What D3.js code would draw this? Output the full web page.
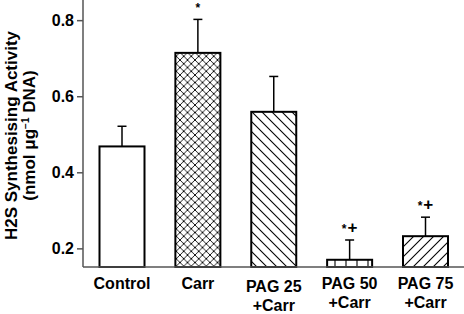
<!DOCTYPE html>
<html>
<head>
<meta charset="utf-8">
<script src="https://cdn.jsdelivr.net/npm/d3@7"></script>
<style>
  body { margin: 0; background: #fff; }
  text { font-family: "Liberation Sans", Arial, sans-serif; font-weight: bold; }
</style>
</head>
<body>
<div id="chart"></div>
<script>
// data
var groups = ["Control", "Carr", "PAG 25\n+Carr", "PAG 50\n+Carr", "PAG 75\n+Carr"];
var means = [0.468, 0.714, 0.559, 0.170, 0.232];
var errors = [0.053, 0.088, 0.093, 0.052, 0.050];
var marks = ["", "*", "", "*+", "*+"];
var fills = ["none", "cross", "back", "vert", "slash"];
var yTicks = [0.2, 0.4, 0.6, 0.8];

var W = 464, H = 314;
var svg = d3.select("#chart").append("svg")
  .attr("width", W)
  .attr("height", H);

// hatch patterns
var defs = svg.append("defs");
function hatch(id, size, lines, sw) {
  var p = defs.append("pattern")
    .attr("id", id)
    .attr("patternUnits", "userSpaceOnUse")
    .attr("width", size)
    .attr("height", size);
  p.append("rect").attr("width", size).attr("height", size).attr("fill", "#fff");
  lines.forEach(function (l) {
    p.append("line")
      .attr("x1", l[0]).attr("y1", l[1]).attr("x2", l[2]).attr("y2", l[3])
      .attr("stroke", "#000").attr("stroke-width", sw);
  });
}
hatch("cross", 7.5, [[0, 0, 7.5, 7.5], [0, 7.5, 7.5, 0]], 0.9);
hatch("back", 10, [[0, 0, 10, 10], [-1, 9, 1, 11], [9, -1, 11, 1]], 1.1);
hatch("slash", 10, [[0, 10, 10, 0], [-1, 1, 1, -1], [9, 11, 11, 9]], 1.1);
hatch("vert", 11, [[5, 0, 5, 11]], 1.1);

var x = d3.scalePoint()
  .domain(groups)
  .range([122, 425.5]);
var barW = 45;

var y = d3.scaleLinear()
  .domain([0.151, 0.853])
  .range([267, 0]);

// y axis
var yAxis = svg.append("g")
  .attr("transform", "translate(83,0)")
  .call(d3.axisLeft(y).tickValues(yTicks).tickSize(6).tickPadding(3).tickFormat(d3.format(".1f")));
yAxis.select(".domain").attr("stroke", "#555").attr("stroke-width", 1.5).attr("d", "M0,0V267");
yAxis.selectAll(".tick line").attr("stroke", "#555").attr("stroke-width", 1.5);
yAxis.selectAll(".tick text")
  .attr("fill", "#000")
  .style("font-size", "16px")
  .style("font-family", "'Liberation Sans', Arial, sans-serif")
  .style("font-weight", "bold");

// error bars (drawn behind bars)
groups.forEach(function (g, i) {
  var cx = x(g);
  svg.append("line")
    .attr("x1", cx).attr("x2", cx)
    .attr("y1", y(means[i])).attr("y2", y(means[i] + errors[i]))
    .attr("stroke", "#000").attr("stroke-width", 1.5);
  svg.append("line")
    .attr("x1", cx - 4.5).attr("x2", cx + 4.5)
    .attr("y1", y(means[i] + errors[i])).attr("y2", y(means[i] + errors[i]))
    .attr("stroke", "#000").attr("stroke-width", 1.5);
});

// bars
svg.selectAll(".bar")
  .data(groups)
  .enter().append("rect")
  .attr("class", "bar")
  .attr("x", function (d) { return x(d) - barW / 2; })
  .attr("y", function (d, i) { return y(means[i]); })
  .attr("width", barW)
  .attr("height", function (d, i) { return y(y.domain()[0]) - y(means[i]); })
  .attr("fill", function (d, i) { return fills[i] == "none" ? "#fff" : "url(#" + fills[i] + ")"; })
  .attr("stroke", "#000")
  .attr("stroke-width", 2);

// x axis line across the full width
svg.append("line")
  .attr("x1", 83).attr("x2", W)
  .attr("y1", 267).attr("y2", 267)
  .attr("stroke", "#555").attr("stroke-width", 1.5);

// significance marks
groups.forEach(function (g, i) {
  if (!marks[i]) return;
  var t = svg.append("text")
    .attr("x", x(g))
    .attr("y", y(means[i] + errors[i]) - 7)
    .attr("text-anchor", "middle")
    .style("font-size", "13px");
  marks[i].split("").forEach(function (c) {
    t.append("tspan")
      .style("font-size", c == "*" ? "12px" : "17px")
      .attr("dx", c == "+" ? 1 : 0)
      .text(c);
  });
});

// category labels
var labelDrop = { "PAG 25\n+Carr": 3 };
groups.forEach(function (g) {
  var lines = g.split("\n");
  var t = svg.append("text")
    .attr("x", x(g))
    .attr("y", 289 + (labelDrop[g] || 0))
    .attr("text-anchor", "middle")
    .style("font-size", "16px");
  lines.forEach(function (l, j) {
    t.append("tspan")
      .attr("x", x(g))
      .attr("dy", j == 0 ? 0 : 19)
      .text(l);
  });
});

// y axis title
var title = svg.append("text")
  .attr("transform", "translate(17,135.5) rotate(-90)")
  .attr("text-anchor", "middle")
  .style("font-size", "17px");
title.append("tspan").attr("x", 0).attr("dy", 0).text("H2S Synthesising Activity");
title.append("tspan").attr("x", 0).attr("dy", 18).text("(nmol μg");
title.append("tspan").attr("dy", -6).style("font-size", "10px").text("−1");
title.append("tspan").attr("dy", 6).text(" DNA)");
</script>
</body>
</html>
